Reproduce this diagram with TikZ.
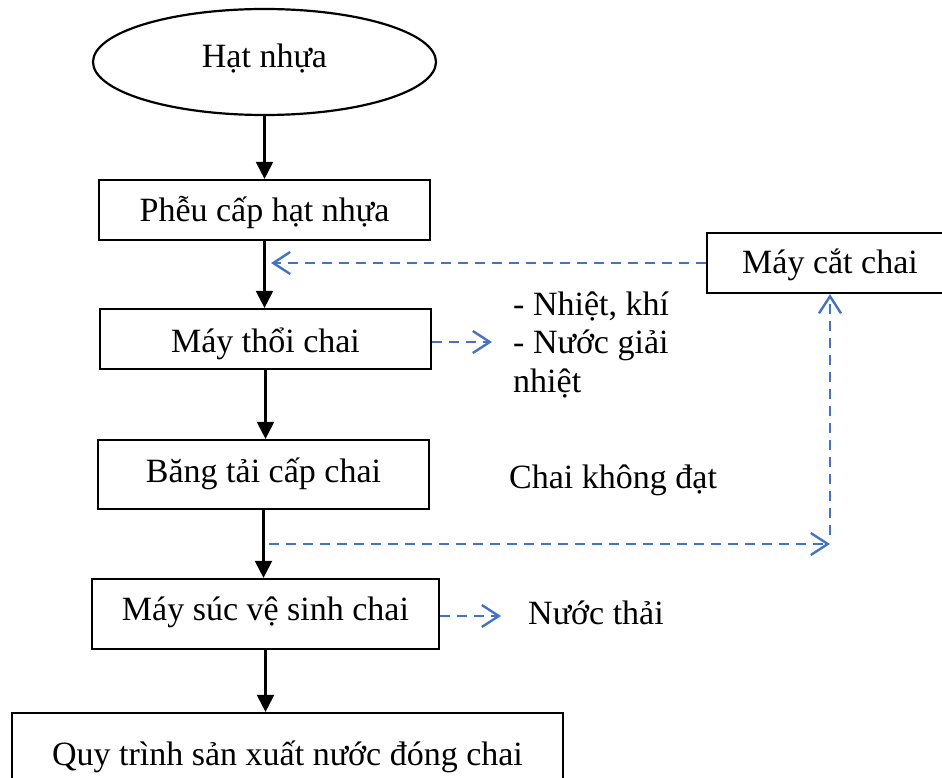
\documentclass[tikz,border=0pt]{standalone}
\usepackage{fontspec}
\setmainfont{Liberation Serif}
\usetikzlibrary{arrows.meta,shapes.geometric}
\definecolor{lineblue}{HTML}{4472C4}
\begin{document}
\begin{tikzpicture}[x=1pt,y=-1pt,
  every node/.style={font=\fontsize{34}{38.5}\selectfont, inner sep=0pt},
  box/.style={draw, line width=2.2pt, rectangle, text depth=0pt},
  flow/.style={line width=2.2pt, -{Triangle[length=17pt,width=17pt]}},
  side/.style={lineblue, line width=2.4pt, dash pattern=on 10pt off 7pt, -{Straight Barb[length=17pt,width=22pt]}}]
\clip (0,0) rectangle (942,778);
\node[ellipse, draw, line width=2.2pt, minimum width=343pt, minimum height=106pt, text height=12pt, text depth=0pt] (start) at (264.5,62) {Hạt nhựa};
\node[box, minimum width=331pt, minimum height=60pt, text height=24pt] (b1) at (264.5,210) {Phễu cấp hạt nhựa};
\node[box, minimum width=331pt, minimum height=60pt, text height=26pt] (b2) at (265.5,339) {Máy thổi chai};
\node[box, minimum width=331pt, minimum height=69pt, text height=15pt] (b3) at (263.5,474.5) {Băng tải cấp chai};
\node[box, minimum width=347pt, minimum height=70pt, text height=12pt] (b4) at (265.5,614) {Máy súc vệ sinh chai};
\node[box, minimum width=551pt, minimum height=87pt, text height=17pt] (b5) at (287.5,756.5) {Quy trình sản xuất nước đóng chai};
\node[box, minimum width=246pt, minimum height=60pt, text height=20pt] (b6) at (830,263) {Máy cắt chai};

\node[anchor=base west, align=left] (heat) at (513,392) {- Nhiệt, khí\\- Nước giải\\nhiệt};
\node[anchor=base west] (reject) at (509,488) {Chai không đạt};
\node[anchor=base west] (waste) at (528,624) {Nước thải};

\coordinate (retIn) at (271,263);
\coordinate (heatTip) at (492,342);
\coordinate (rejS) at (269,544);
\coordinate (corner) at (830,544);
\coordinate (wasteTip) at (501,616);

\draw[flow] (start.south) -- (start.south |- b1.north);
\draw[flow] (b1.south) -- (b1.south |- b2.north);
\draw[flow] (b2.south) -- (b2.south |- b3.north);
\draw[flow] (b3.south) -- (b3.south |- b4.north);
\draw[flow] (b4.south) -- (b4.south |- b5.north);

\draw[side] (b6.west) -- (retIn);
\draw[side] (b2.east |- heatTip) -- (heatTip);
\draw[side] (rejS) -- (corner);
\draw[side] ([yshift=9pt]corner) -- (b6.south);
\draw[side] (b4.east |- wasteTip) -- (wasteTip);
\end{tikzpicture}
\end{document}
